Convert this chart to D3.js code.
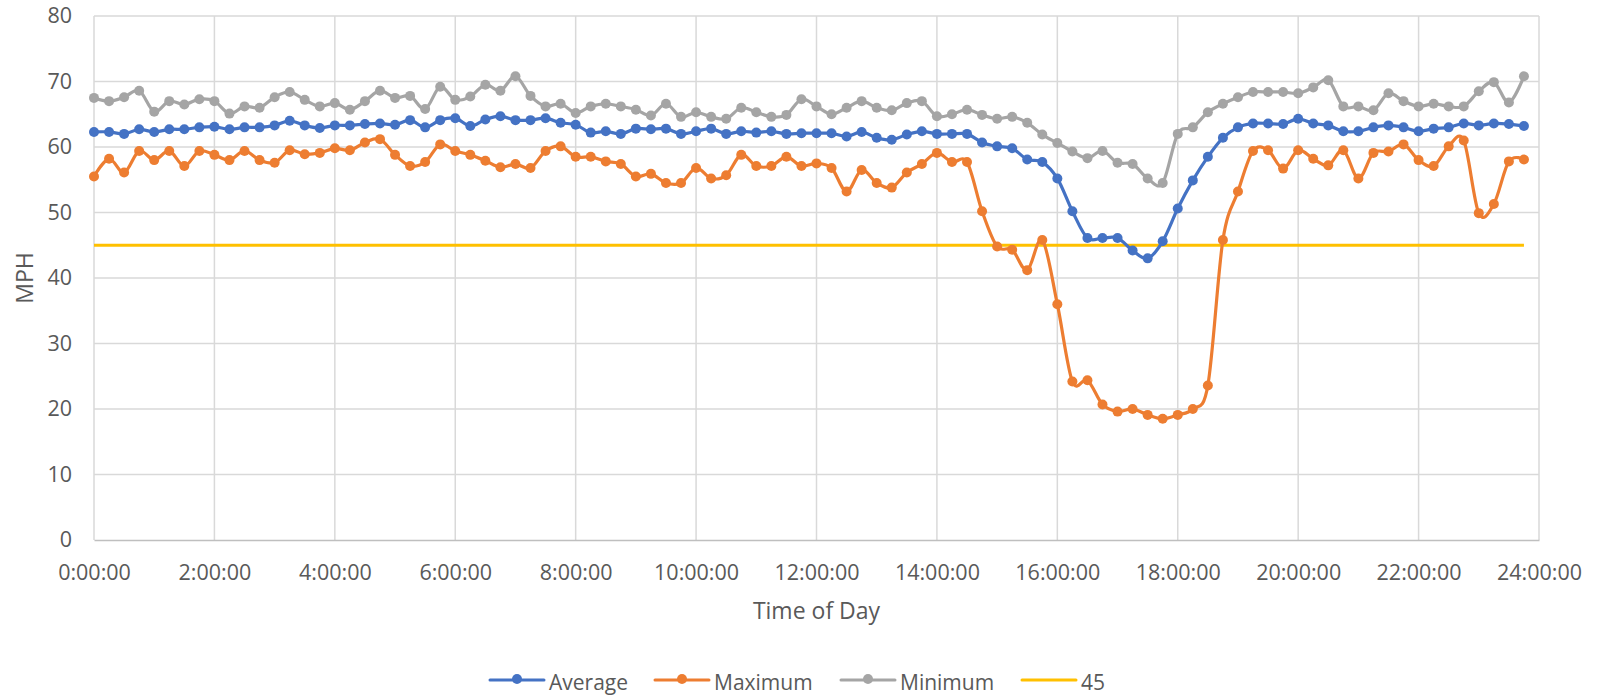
<!DOCTYPE html>
<html>
<head>
<meta charset="utf-8">
<script src="https://cdn.jsdelivr.net/npm/d3@7"></script>
<style>
  html, body { margin: 0; padding: 0; background: #ffffff; }
  svg { display: block; }
  text { font-family: "Open Sans", "Liberation Sans", sans-serif; fill: #595959; }
</style>
</head>
<body>
<svg id="chart" width="1598" height="699"></svg>
<script>
// Time of day, 15-minute intervals
const times = [
  "0:00","0:15","0:30","0:45","1:00","1:15","1:30","1:45",
  "2:00","2:15","2:30","2:45","3:00","3:15","3:30","3:45",
  "4:00","4:15","4:30","4:45","5:00","5:15","5:30","5:45",
  "6:00","6:15","6:30","6:45","7:00","7:15","7:30","7:45",
  "8:00","8:15","8:30","8:45","9:00","9:15","9:30","9:45",
  "10:00","10:15","10:30","10:45","11:00","11:15","11:30","11:45",
  "12:00","12:15","12:30","12:45","13:00","13:15","13:30","13:45",
  "14:00","14:15","14:30","14:45","15:00","15:15","15:30","15:45",
  "16:00","16:15","16:30","16:45","17:00","17:15","17:30","17:45",
  "18:00","18:15","18:30","18:45","19:00","19:15","19:30","19:45",
  "20:00","20:15","20:30","20:45","21:00","21:15","21:30","21:45",
  "22:00","22:15","22:30","22:45","23:00","23:15","23:30","23:45"
];

// Average speed (MPH)
const average = [
  62.3, 62.3, 62.0, 62.7, 62.3, 62.7, 62.7, 63.0,
  63.1, 62.7, 63.0, 63.0, 63.3, 64.0, 63.3, 62.9,
  63.3, 63.3, 63.5, 63.6, 63.4, 64.1, 63.0, 64.1,
  64.4, 63.2, 64.2, 64.7, 64.1, 64.1, 64.4, 63.7,
  63.4, 62.2, 62.4, 62.0, 62.8, 62.7, 62.8, 62.0,
  62.4, 62.8, 62.0, 62.4, 62.2, 62.4, 62.0, 62.1,
  62.1, 62.1, 61.6, 62.3, 61.4, 61.1, 61.9, 62.4,
  62.0, 62.0, 62.0, 60.7, 60.1, 59.8, 58.1, 57.7,
  55.2, 50.2, 46.1, 46.1, 46.1, 44.2, 43.0, 45.6,
  50.6, 54.9, 58.5, 61.4, 63.0, 63.6, 63.6, 63.5,
  64.3, 63.6, 63.3, 62.4, 62.4, 63.0, 63.3, 63.0,
  62.4, 62.8, 63.0, 63.6, 63.3, 63.6, 63.5, 63.2
];

// Maximum speed (MPH)
const maximum = [
  55.5, 58.2, 56.1, 59.4, 58.0, 59.4, 57.1, 59.4,
  58.8, 58.0, 59.4, 58.0, 57.6, 59.5, 58.9, 59.1,
  59.8, 59.5, 60.7, 61.2, 58.8, 57.1, 57.7, 60.4,
  59.4, 58.8, 57.9, 56.9, 57.4, 56.8, 59.4, 60.1,
  58.5, 58.5, 57.8, 57.4, 55.5, 55.9, 54.5, 54.5,
  56.8, 55.2, 55.7, 58.8, 57.1, 57.1, 58.5, 57.1,
  57.5, 56.8, 53.2, 56.5, 54.5, 53.8, 56.1, 57.4,
  59.1, 57.7, 57.7, 50.2, 44.8, 44.3, 41.2, 45.8,
  36.0, 24.2, 24.4, 20.7, 19.6, 20.0, 19.1, 18.5,
  19.1, 20.0, 23.6, 45.8, 53.2, 59.4, 59.5, 56.7,
  59.5, 58.2, 57.2, 59.5, 55.2, 59.1, 59.3, 60.4,
  58.0, 57.1, 60.1, 61.0, 49.9, 51.3, 57.8, 58.1
];

// Minimum speed (MPH)
const minimum = [
  67.5, 67.0, 67.6, 68.6, 65.4, 67.0, 66.5, 67.3,
  67.0, 65.1, 66.2, 66.0, 67.6, 68.4, 67.2, 66.2,
  66.7, 65.7, 67.0, 68.6, 67.5, 67.8, 65.8, 69.2,
  67.2, 67.7, 69.5, 68.6, 70.8, 67.8, 66.2, 66.6,
  65.2, 66.2, 66.6, 66.2, 65.7, 64.8, 66.6, 64.6,
  65.3, 64.6, 64.3, 66.0, 65.3, 64.6, 64.9, 67.3,
  66.2, 65.0, 66.0, 67.0, 66.0, 65.6, 66.7, 67.0,
  64.7, 65.0, 65.7, 64.9, 64.3, 64.6, 63.7, 61.9,
  60.6, 59.3, 58.3, 59.4, 57.6, 57.4, 55.2, 54.5,
  62.0, 63.0, 65.3, 66.6, 67.6, 68.4, 68.4, 68.4,
  68.2, 69.1, 70.2, 66.2, 66.2, 65.6, 68.2, 67.0,
  66.2, 66.6, 66.2, 66.2, 68.5, 69.9, 66.8, 70.8
];

// Reference speed line
const thresholdValue = 45;

const yTicks = [0, 10, 20, 30, 40, 50, 60, 70, 80];
const xTicks = [0, 2, 4, 6, 8, 10, 12, 14, 16, 18, 20, 22, 24];

const seriesNames = ["Average", "Maximum", "Minimum", "45"];
const seriesColors = ["#4472C4", "#ED7D31", "#A5A5A5", "#FFC000"];

const toHours = s => { const [h, m] = s.split(":").map(Number); return h + m / 60; };
const fmtTick = h => h + ":00:00";

const svg = d3.select("#chart");
const plot = { left: 94, right: 1539, top: 16, bottom: 540 };

const x = d3.scaleLinear().domain([0, 24]).range([plot.left, plot.right]);
const y = d3.scaleLinear().domain([0, 80]).range([plot.bottom, plot.top]);

// Horizontal gridlines
svg.append("g")
  .selectAll("line")
  .data(yTicks.filter(v => v > 0))
  .join("line")
  .attr("x1", plot.left).attr("x2", plot.right)
  .attr("y1", d => y(d)).attr("y2", d => y(d))
  .attr("stroke", "#d9d9d9").attr("stroke-width", 1.5);

// Vertical gridlines
svg.append("g")
  .selectAll("line")
  .data(xTicks)
  .join("line")
  .attr("x1", d => x(d)).attr("x2", d => x(d))
  .attr("y1", plot.top).attr("y2", plot.bottom)
  .attr("stroke", "#d9d9d9").attr("stroke-width", 1.5);

// X axis
const xAxis = svg.append("g")
  .attr("transform", `translate(0,${plot.bottom})`)
  .call(d3.axisBottom(x).tickValues(xTicks).tickFormat(fmtTick).tickSize(0).tickPadding(25));
xAxis.select(".domain").attr("stroke", "#bfbfbf").attr("stroke-width", 1.5);
xAxis.selectAll("text")
  .attr("font-size", 21.5).attr("fill", "#595959")
  .attr("font-family", "Open Sans");

// Y axis
const yAxis = svg.append("g")
  .attr("transform", `translate(${plot.left},0)`)
  .call(d3.axisLeft(y).tickValues(yTicks).tickSize(0).tickPadding(22));
yAxis.select(".domain").remove();
yAxis.selectAll("text")
  .attr("font-size", 21.5).attr("fill", "#595959")
  .attr("font-family", "Open Sans");

// Axis titles
svg.append("text")
  .attr("x", (plot.left + plot.right) / 2)
  .attr("y", 619)
  .attr("text-anchor", "middle")
  .attr("font-size", 23)
  .text("Time of Day");

svg.append("text")
  .attr("transform", `translate(33,${(plot.top + plot.bottom) / 2}) rotate(-90)`)
  .attr("text-anchor", "middle")
  .attr("font-size", 23)
  .text("MPH");

// 45 MPH reference line
svg.append("line")
  .attr("x1", x(toHours(times[0])))
  .attr("x2", x(toHours(times[times.length - 1])))
  .attr("y1", y(thresholdValue)).attr("y2", y(thresholdValue))
  .attr("stroke", seriesColors[3]).attr("stroke-width", 3);

// Smoothed series with markers
const series = [
  { name: seriesNames[0], values: average, color: seriesColors[0] },
  { name: seriesNames[1], values: maximum, color: seriesColors[1] },
  { name: seriesNames[2], values: minimum, color: seriesColors[2] }
];

const line = d3.line()
  .x(d => x(d.t))
  .y(d => y(d.v))
  .curve(d3.curveCardinal.tension(0));

// draw in reverse so Average sits on top
series.slice().reverse().forEach(s => {
  const pts = times.map((t, i) => ({ t: toHours(t), v: s.values[i] }));
  const g = svg.append("g");
  g.append("path")
    .datum(pts)
    .attr("d", line)
    .attr("fill", "none")
    .attr("stroke", s.color)
    .attr("stroke-width", 3.2)
    .attr("stroke-linejoin", "round")
    .attr("stroke-linecap", "round");
  g.selectAll("circle")
    .data(pts)
    .join("circle")
    .attr("cx", d => x(d.t))
    .attr("cy", d => y(d.v))
    .attr("r", 5)
    .attr("fill", s.color);
});

// Legend
const legendY = 680;
const legendItems = [
  { name: seriesNames[0], color: seriesColors[0], x0: 490, marker: true },
  { name: seriesNames[1], color: seriesColors[1], x0: 655, marker: true },
  { name: seriesNames[2], color: seriesColors[2], x0: 841, marker: true },
  { name: seriesNames[3], color: seriesColors[3], x0: 1022, marker: false }
];
const legend = svg.append("g");
legendItems.forEach(it => {
  legend.append("line")
    .attr("x1", it.x0).attr("x2", it.x0 + 54)
    .attr("y1", legendY).attr("y2", legendY)
    .attr("stroke", it.color).attr("stroke-width", 3)
    .attr("stroke-linecap", "round");
  if (it.marker) {
    legend.append("circle")
      .attr("cx", it.x0 + 27).attr("cy", legendY - 1)
      .attr("r", 5).attr("fill", it.color);
  }
  legend.append("text")
    .attr("x", it.x0 + 59)
    .attr("y", legendY + 10)
    .attr("font-size", 21)
    .text(it.name);
});
</script>
</body>
</html>
